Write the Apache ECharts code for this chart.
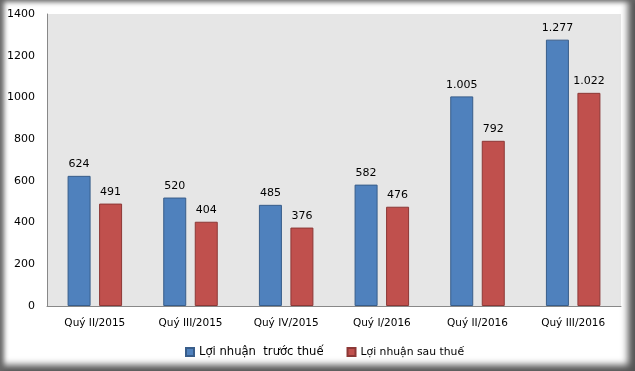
<!DOCTYPE html>
<html><head><meta charset="utf-8">
<script src="https://cdn.jsdelivr.net/npm/echarts@6/dist/echarts.min.js"></script>
<style>
html,body{margin:0;padding:0;background:#fff;}
#wrap{position:relative;width:635px;height:371px;overflow:hidden;}
#chart{position:absolute;left:0;top:0;width:635px;height:371px;}
#frame{position:absolute;left:0;top:0;width:635px;height:371px;pointer-events:none;box-sizing:border-box;
box-shadow: inset 5px 3px 5px -1px #666, inset -9px -8px 7px -2px #555;}
</style></head>
<body><div id="wrap"><div id="chart"></div><div id="frame"></div></div>
<script>
const categories = ['Quý II/2015','Quý III/2015','Quý IV/2015','Quý I/2016','Quý II/2016','Quý III/2016'];
const seriesNames = ['Lợi nhuận  trước thuế','Lợi nhuận sau thuế'];
const truocThue = [624, 520, 485, 582, 1005, 1277];
const sauThue = [491, 404, 376, 476, 792, 1022];
const yTicks = [0, 200, 400, 600, 800, 1000, 1200, 1400];

function fmt(v){ return String(v).replace(/\B(?=(\d{3})+(?!\d))/g, '.'); }
const font = 'Tahoma, "DejaVu Sans", Verdana, sans-serif';

const chart = echarts.init(document.getElementById('chart'), null, {renderer:'canvas'});
chart.setOption({
  animation:false,
  grid:{left:47,right:14,top:14,bottom:65,show:true,backgroundColor:'#e6e6e6',borderWidth:0},
  legend:{top:341,left:180,itemWidth:8,itemHeight:8,itemGap:23,icon:'rect',
    textStyle:{fontFamily:font,fontSize:12,color:'#000'},
    data:[{name:seriesNames[0],textStyle:{fontSize:11.6}},{name:seriesNames[1],textStyle:{fontSize:10.8}}]},
  xAxis:{type:'category',data:categories,axisTick:{show:false},
    axisLine:{lineStyle:{color:'#888',width:1}},
    axisLabel:{fontFamily:font,fontSize:10.5,color:'#000',margin:12}},
  yAxis:{type:'value',min:yTicks[0],max:yTicks[yTicks.length-1],interval:200,
    splitLine:{show:false},axisLine:{show:true,lineStyle:{color:'#888'}},axisTick:{show:false},
    axisLabel:{fontFamily:font,fontSize:11,color:'#000',margin:12,formatter:v=>String(v)}},
  series:[
    {name:seriesNames[0],type:'bar',data:truocThue,barWidth:23,barGap:'37%',
     itemStyle:{color:'#4f81bd',borderColor:'#385d8a',borderWidth:1},
     label:{show:true,position:'top',distance:6,formatter:p=>fmt(p.value),fontFamily:font,fontSize:11,color:'#000'}},
    {name:seriesNames[1],type:'bar',data:sauThue,barWidth:23,
     itemStyle:{color:'#c0504d',borderColor:'#8c3836',borderWidth:1},
     label:{show:true,position:'top',distance:6,formatter:p=>fmt(p.value),fontFamily:font,fontSize:11,color:'#000'}}
  ]
});
</script></body></html>
